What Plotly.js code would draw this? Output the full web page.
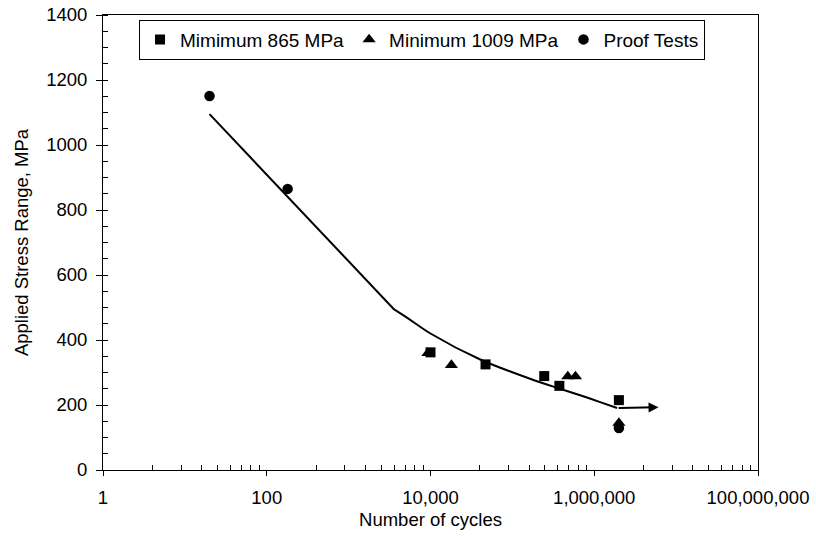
<!DOCTYPE html>
<html>
<head>
<meta charset="utf-8">
<script src="https://cdn.plot.ly/plotly-3.0.1.min.js"></script>
<style>html,body{margin:0;padding:0;background:#fff;}#chart{width:816px;height:537px;}</style>
</head>
<body>
<div id="chart"></div>
<script>
// Data
const min865Cycles = [10000, 47000, 245000, 375000, 2000000];
const min865Stress = [362, 325, 289, 259, 215];

const min1009Cycles = [9300, 18000, 475000, 590000, 2000000];
const min1009Stress = [360, 323, 288, 288, 145];

const proofCycles = [20, 180, 2000000];
const proofStress = [1151, 865, 129];

// design curve: straight upper part, curved lower part
const fitUpperCycles = [20, 3600];
const fitUpperStress = [1095, 494];
const fitLowerCycles = [3600, 5650, 10000, 40500, 181000, 372000, 673000, 1180000, 1900000];
const fitLowerStress = [494, 462, 420, 340, 277, 251, 230, 209, 191];

const arrowFrom = [1900000, 191];
const arrowTo = [6100000, 193];

const xMajorVals = [1, 100, 10000, 1000000, 100000000];
const xMajorText = ['1', '100', '10,000', '1,000,000', '100,000,000'];
const seriesNames = ['Mimimum 865 MPa', 'Minimum 1009 MPa', 'Proof Tests'];

// minor tick positions of the base-100 log axis (squares of 2..9 in each major step)
const xMinorVals = [];
for (let d = 0; d < 4; d++) {
  for (let k = 2; k <= 9; k++) xMinorVals.push(k * k * Math.pow(100, d));
}

const FAMILY = 'Liberation Sans, Arial, sans-serif';
const font = {family: FAMILY, size: 18.5, color: '#000'};
const legendFont = {family: FAMILY, size: 19, color: '#000'};

const traces = [
  {x: fitUpperCycles, y: fitUpperStress, type: 'scatter', mode: 'lines',
   line: {color: '#000', width: 2}, showlegend: false, hoverinfo: 'skip'},
  {x: fitLowerCycles, y: fitLowerStress, type: 'scatter', mode: 'lines',
   line: {color: '#000', width: 2, shape: 'spline', smoothing: 0.8}, showlegend: false, hoverinfo: 'skip'},
  {x: min865Cycles, y: min865Stress, type: 'scatter', mode: 'markers', name: seriesNames[0],
   marker: {symbol: 'square', size: 10, color: '#000'}},
  {x: min1009Cycles, y: min1009Stress, type: 'scatter', mode: 'markers', name: seriesNames[1],
   marker: {symbol: 'triangle-up', size: 11.5, color: '#000'}},
  {x: proofCycles, y: proofStress, type: 'scatter', mode: 'markers', name: seriesNames[2],
   marker: {symbol: 'circle', size: 10.5, color: '#000'}}
];

const layout = {
  width: 816, height: 537,
  margin: {l: 103, r: 58, t: 15, b: 67},
  paper_bgcolor: '#fff', plot_bgcolor: '#fff',
  font: font,
  showlegend: true,
  legend: {
    orientation: 'h', x: 0.055, y: 0.99, xanchor: 'left', yanchor: 'top',
    bordercolor: '#000', borderwidth: 1, bgcolor: '#fff', font: legendFont
  },
  xaxis: {
    type: 'log', range: [0, 8],
    tickmode: 'array', tickvals: xMajorVals, ticktext: xMajorText,
    ticks: 'outside', ticklen: 5, tickwidth: 1, tickcolor: '#000',
    minor: {tickmode: 'array', tickvals: xMinorVals, ticks: 'inside', ticklen: 5, tickwidth: 1, tickcolor: '#000'},
    showline: true, linecolor: '#000', linewidth: 1, mirror: true,
    showgrid: false, zeroline: false,
    ticklabelstandoff: 6,
    title: {text: 'Number of cycles', font: font, standoff: 5},
    tickfont: font
  },
  xaxis2: {
    type: 'log', range: [0, 8], overlaying: 'x', anchor: 'y', side: 'bottom',
    tickmode: 'array', tickvals: xMajorVals, showticklabels: false,
    ticks: 'inside', ticklen: 6, tickwidth: 1, tickcolor: '#000',
    showline: false, showgrid: false, zeroline: false
  },
  yaxis: {
    range: [0, 1400], tickmode: 'linear', tick0: 0, dtick: 200,
    ticks: 'outside', ticklen: 6, tickwidth: 1, tickcolor: '#000',
    minor: {dtick: 50, ticks: 'inside', ticklen: 5, tickwidth: 1, tickcolor: '#000'},
    showline: true, linecolor: '#000', linewidth: 1, mirror: true,
    showgrid: false, zeroline: false,
    ticklabelstandoff: 5,
    title: {text: 'Applied Stress Range, MPa', font: font, standoff: 12},
    tickfont: font
  },
  annotations: [{
    xref: 'x', yref: 'y', axref: 'x', ayref: 'y',
    x: Math.log10(arrowTo[0]), y: arrowTo[1],
    ax: Math.log10(arrowFrom[0]), ay: arrowFrom[1],
    text: '', showarrow: true, arrowhead: 2, arrowsize: 1, arrowwidth: 2,
    arrowcolor: '#000', standoff: 0, startstandoff: 0
  }]
};

Plotly.newPlot('chart', traces, layout, {staticPlot: true, displayModeBar: false});
</script>
</body>
</html>
